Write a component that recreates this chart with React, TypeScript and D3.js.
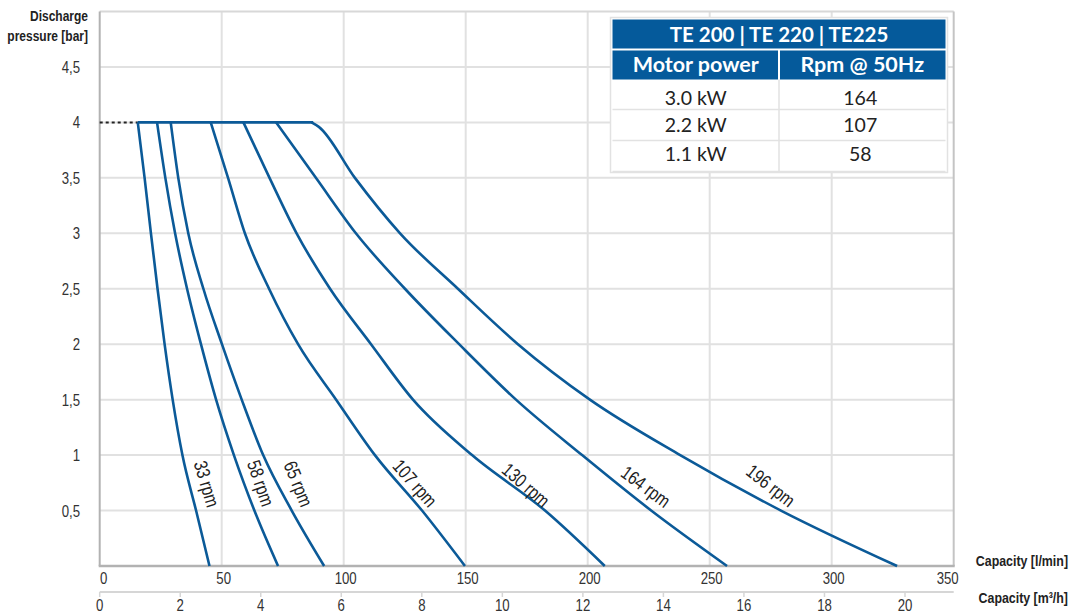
import React from "react";
import * as d3 from "d3";

// ---------- data ----------
const capacityTicks = [0, 50, 100, 150, 200, 250, 300, 350]; // l/min
const m3Ticks = [0, 2, 4, 6, 8, 10, 12, 14, 16, 18, 20]; // m3/h
const pressureTicks = [0.5, 1, 1.5, 2, 2.5, 3, 3.5, 4, 4.5]; // bar

// [capacity l/min, pressure bar]
const curve33: [number, number][] = [
  [15.6, 4], [18.4, 3.5], [21.0, 3.0], [23.7, 2.5], [26.6, 2.0], [29.9, 1.5], [33.9, 1.0], [39.5, 0.5], [45.0, 0],
];
const curve58: [number, number][] = [
  [23.5, 4], [26.9, 3.5], [30.9, 3.0], [35.8, 2.5], [41.5, 2.0], [47.7, 1.5], [55.0, 1.0], [63.4, 0.5], [73.1, 0],
];
const curve65: [number, number][] = [
  [29.1, 4], [32.2, 3.5], [36.3, 3.0], [42.5, 2.5], [50.1, 2.0], [58.2, 1.5], [67.0, 1.0], [78.7, 0.5], [92.0, 0],
];
const curve107: [number, number][] = [
  [45.5, 4], [52.6, 3.5], [59.5, 3.0], [69.4, 2.5], [81.3, 2.0], [96.9, 1.5], [112.8, 1.0], [132.1, 0.5], [149.7, 0],
];
const curve130: [number, number][] = [
  [58.9, 4], [69.6, 3.5], [80.7, 3.0], [94.4, 2.5], [111.2, 2.0], [128.4, 1.5], [152.6, 1.0], [182.5, 0.5], [207.0, 0],
];
const curve164: [number, number][] = [
  [72.3, 4], [88.6, 3.5], [105.0, 3.0], [125.1, 2.5], [147.3, 2.0], [170.6, 1.5], [197.7, 1.0], [226.0, 0.5], [257.1, 0],
];
const curve196: [number, number][] = [
  [86.8, 4], [89.8, 3.96], [104.6, 3.5], [123.1, 3.0], [146.8, 2.5], [171.4, 2.0], [200.9, 1.5], [237.9, 1.0], [279.2, 0.5], [326.8, 0],
];
const maxPressureLine: [number, number][] = [[15.6, 4], [87.5, 4]];
const dottedLine: [number, number][] = [[0, 4], [15.6, 4]];

const curveLabels = ["33 rpm", "58 rpm", "65 rpm", "107 rpm", "130 rpm", "164 rpm", "196 rpm"];
const curveLabelCapacity = [43.85, 66.0, 81.4, 129.2, 174.7, 223.8, 275.0];
const curveLabelPressure = [0.74, 0.746, 0.74, 0.746, 0.73, 0.715, 0.724];
const curveLabelAngle = [73.5, 71, 68, 48.6, 41, 36.5, 38];

const tableTitle = "TE 200 | TE 220 | TE225";
const tableHeaders = ["Motor power", "Rpm @ 50Hz"];
const motorPower = ["3.0 kW", "2.2 kW", "1.1 kW"];
const rpmAt50Hz = ["164", "107", "58"];

// ---------- layout ----------
const W = 1072;
const H = 615;
const left = 99.7;
const right = 953.7;
const top = 11.5;
const bottom = 566;

const BLUE = "#0b5a98";
const GRID = "#e1e1e1";
const SANS = "'Liberation Sans', Arial, sans-serif";
const TABLEFONT = "Lato, 'Open Sans', sans-serif";
const SX = 0.8;

type NProps = {
  x: number;
  y: number;
  size: number;
  anchor?: "start" | "middle" | "end";
  bold?: boolean;
  rotate?: number;
  dy?: string;
  fill?: string;
  children: React.ReactNode;
};

function NText({ x, y, size, anchor = "start", bold = false, rotate = 0, dy, fill = "#333", children }: NProps) {
  return (
    <text
      transform={`translate(${x},${y}) rotate(${rotate}) scale(${SX},1)`}
      textAnchor={anchor}
      dy={dy}
      fontFamily={SANS}
      fontWeight={bold ? "bold" : "normal"}
      fontSize={size}
      fill={fill}
    >
      {children}
    </text>
  );
}

export default function App() {
  const x = d3.scaleLinear().domain([0, 350]).range([left, right]);
  const xm = d3.scaleLinear().domain([0, 20]).range([left, 905]);
  const y = d3.scaleLinear().domain([0, 5]).range([bottom, top]);

  const line = d3
    .line<[number, number]>()
    .x((d) => x(d[0]))
    .y((d) => y(d[1]))
    .curve(d3.curveMonotoneX);
  const straight = d3
    .line<[number, number]>()
    .x((d) => x(d[0]))
    .y((d) => y(d[1]));

  const curves = [curve33, curve58, curve65, curve107, curve130, curve164, curve196];

  const fmt = (v: number) => String(v).replace(".", ",");

  // table geometry
  const tL = 612.5, tR = 945.5, tMid = 779;
  const r0 = 19.5, r1 = 49.5, r2 = 79.5;
  const rowBounds = [79.5, 109.5, 140.5, 171.5];
  const rowText = [98, 125, 154];

  const axisM3Y = 592;

  return (
    <svg
      width={W}
      height={H}
      style={{ position: "absolute", left: 0, top: 0, background: "#fff" }}
      xmlns="http://www.w3.org/2000/svg"
    >
      <rect x={0} y={0} width={W} height={H} fill="#fff" />
      {/* grid */}
      {capacityTicks.filter((t) => t > 0 && t < 350).map((t) => (
        <line key={"gx" + t} x1={x(t)} x2={x(t)} y1={y(5)} y2={y(0)} stroke={GRID} strokeWidth={2} />
      ))}
      {pressureTicks.map((t) => (
        <line key={"gy" + t} x1={x(0)} x2={x(350)} y1={y(t)} y2={y(t)} stroke={GRID} strokeWidth={2} />
      ))}
      {/* frame */}
      <line x1={x(0)} x2={x(350)} y1={y(5)} y2={y(5)} stroke="#d8d8d8" strokeWidth={2} />
      <line x1={x(350)} x2={x(350)} y1={y(5)} y2={y(0)} stroke="#c4c4c4" strokeWidth={2} />
      <line x1={x(0)} x2={x(0)} y1={y(5)} y2={y(0)} stroke="#b2b2b2" strokeWidth={2} />
      <line x1={x(0) - 1} x2={x(350) + 1} y1={y(0)} y2={y(0)} stroke="#b2b2b2" strokeWidth={2.5} />

      {/* y tick labels */}
      {pressureTicks.map((t) => (
        <NText key={"yl" + t} x={80} y={y(t)} dy="0.36em" anchor="end" size={16.5}>
          {fmt(t)}
        </NText>
      ))}
      <NText x={88} y={20.5} anchor="end" size={15} bold fill="#222">Discharge</NText>
      <NText x={88} y={40.5} anchor="end" size={15} bold fill="#222">pressure [bar]</NText>

      {/* x axis l/min labels */}
      {capacityTicks.map((t) => (
        <NText key={"xl" + t} x={x(t) + (t === 0 ? 4 : t === 350 ? -6 : 2)} y={584} anchor="middle" size={16.5}>
          {t}
        </NText>
      ))}
      <NText x={1068} y={566} anchor="end" size={15.5} bold fill="#222">Capacity [l/min]</NText>

      {/* m3/h axis */}
      <line x1={x(0)} x2={x(350)} y1={axisM3Y} y2={axisM3Y} stroke="#d6d6d6" strokeWidth={2} />
      {m3Ticks.map((t) => (
        <g key={"m" + t}>
          <line x1={xm(t)} x2={xm(t)} y1={axisM3Y} y2={axisM3Y + 5} stroke="#d6d6d6" strokeWidth={1.5} />
          <NText x={xm(t)} y={611} anchor="middle" size={16.5}>
            {t}
          </NText>
        </g>
      ))}
      <NText x={1068} y={603} anchor="end" size={15.5} bold fill="#222">Capacity [m³/h]</NText>

      {/* curves */}
      <path d={straight(dottedLine) || ""} fill="none" stroke="#222" strokeWidth={2} strokeDasharray="3,3" />
      <path d={straight(maxPressureLine) || ""} fill="none" stroke={BLUE} strokeWidth={2.6} />
      {curves.map((c, i) => (
        <path key={"c" + i} d={line(c) || ""} fill="none" stroke={BLUE} strokeWidth={2.6} strokeLinejoin="round" />
      ))}

      {/* curve labels */}
      {curveLabels.map((lab, i) => (
        <NText
          key={"lab" + i}
          x={x(curveLabelCapacity[i])}
          y={y(curveLabelPressure[i])}
          rotate={curveLabelAngle[i]}
          anchor="middle"
          dy="0.35em"
          size={19}
          fill="#222"
        >
          {lab}
        </NText>
      ))}

      {/* table */}
      <rect x={tL - 2} y={r0 - 2} width={tR - tL + 4} height={rowBounds[3] - r0 + 3} fill="#fff" stroke="#e2e2e2" strokeWidth={1.5} />
      <rect x={tL} y={r0} width={tR - tL} height={r1 - r0 - 1} fill="#055a9b" />
      <rect x={tL} y={r1 + 1} width={tMid - tL - 1} height={r2 - r1 - 1} fill="#055a9b" />
      <rect x={tMid + 1} y={r1 + 1} width={tR - tMid - 1} height={r2 - r1 - 1} fill="#055a9b" />
      <text x={(tL + tR) / 2} y={(r0 + r1) / 2} dy="0.36em" textAnchor="middle" fontFamily={TABLEFONT} fontWeight="bold" fontSize={20.5} fill="#fff">
        {tableTitle}
      </text>
      {tableHeaders.map((h, i) => (
        <text
          key={"th" + i}
          x={i === 0 ? (tL + tMid) / 2 : (tMid + tR) / 2}
          y={(r1 + r2) / 2}
          dy="0.36em"
          textAnchor="middle"
          fontFamily={TABLEFONT}
          fontWeight="bold"
          fontSize={21.5}
          fill="#fff"
        >
          {h}
        </text>
      ))}
      {rowBounds.slice(1).map((b, i) => (
        <line key={"rb" + i} x1={tL} x2={tR} y1={b} y2={b} stroke="#e2e2e2" strokeWidth={1.5} />
      ))}
      <line x1={tMid} x2={tMid} y1={r2} y2={rowBounds[3]} stroke="#e2e2e2" strokeWidth={1.5} />
      {motorPower.map((m, i) => (
        <text key={"mp" + i} x={(tL + tMid) / 2} y={rowText[i]} dy="0.36em" textAnchor="middle" fontFamily={TABLEFONT} fontSize={19.5} fill="#222">
          {m}
        </text>
      ))}
      {rpmAt50Hz.map((m, i) => (
        <text key={"rp" + i} x={(tMid + tR) / 2 - 2} y={rowText[i]} dy="0.36em" textAnchor="middle" fontFamily={TABLEFONT} fontSize={19.5} fill="#222">
          {m}
        </text>
      ))}
    </svg>
  );
}
